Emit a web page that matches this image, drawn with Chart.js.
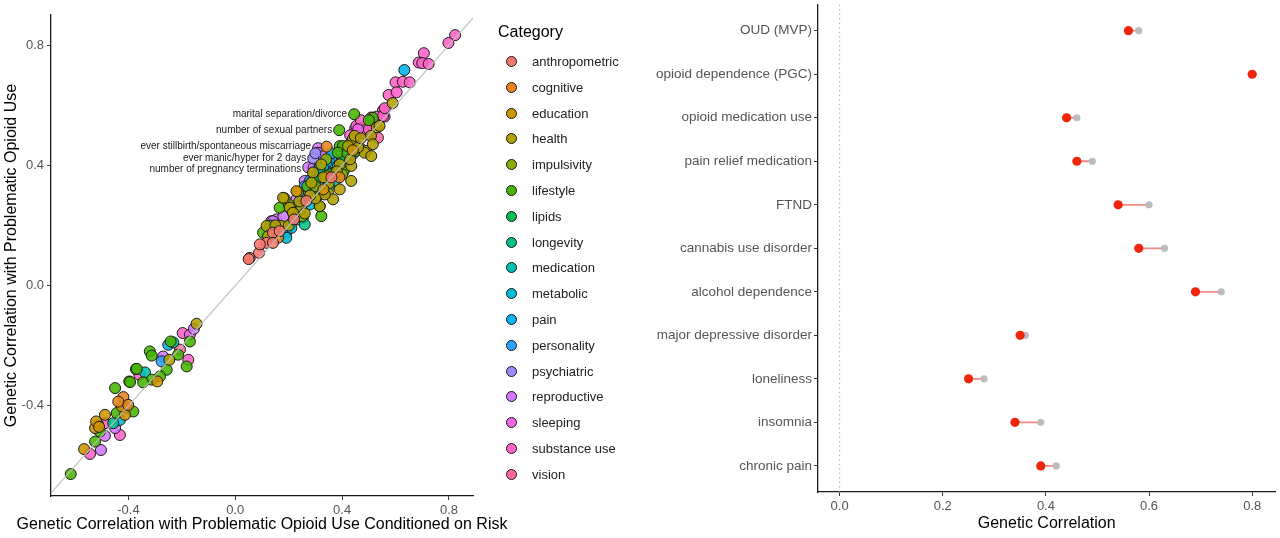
<!DOCTYPE html>
<html>
<head>
<meta charset="utf-8">
<script src="https://cdn.jsdelivr.net/npm/chart.js@4"></script>
<style>
  body { margin: 0; background: #fff; font-family: "Liberation Sans", Arial, sans-serif; }
  #wrap { position: relative; width: 1280px; height: 538px; overflow: hidden; }
  #scatterBox { position: absolute; left: 0; top: 0; width: 520px; height: 538px; }
  #dumbbellBox { position: absolute; left: 640px; top: 0; width: 640px; height: 538px; }
  #legend { position: absolute; left: 498px; top: 0; width: 140px; height: 500px; }
  #legend .title { position: absolute; left: 0; top: 23px; font-size: 16px; color: #000; }
  #legend .item { position: absolute; left: 8px; height: 20px; line-height: 20px; font-size: 13px; color: #222; white-space: nowrap; }
  #legend .dot { position: absolute; left: 0; top: 4px; width: 9px; height: 9px; border: 1.2px solid #1a1a1a; border-radius: 50%; }
  #legend .lab { position: absolute; left: 26px; top: 0; }
</style>
</head>
<body>
<div id="wrap">
  <div id="scatterBox"><canvas id="scatterChart"></canvas></div>
  <div id="legend"></div>
  <div id="dumbbellBox"><canvas id="dumbbellChart"></canvas></div>
</div>
<script>
// ---- left panel data: [rg conditioned on risk, rg with problematic opioid use] ----
const categories = ['anthropometric', 'cognitive', 'education', 'health', 'impulsivity', 'lifestyle', 'lipids',
  'longevity', 'medication', 'metabolic', 'pain', 'personality', 'psychiatric', 'reproductive', 'sleeping',
  'substance use', 'vision'];

const anthropometricPts = [[0.054, 0.092], [0.05, 0.088], [0.089, 0.109], [0.117, 0.142], [0.141, 0.176],
  [0.166, 0.181], [0.141, 0.142], [0.266, 0.281], [0.092, 0.137], [0.22, 0.22], [0.36, 0.36]];
const cognitivePts = [[0.342, 0.462], [0.16, 0.159], [-0.419, -0.371], [-0.401, -0.397], [-0.438, -0.386],
  [0.39, 0.36]];
const educationPts = [[-0.488, -0.43], [-0.513, -0.463], [-0.525, -0.474], [-0.566, -0.544], [-0.521, -0.452],
  [-0.413, -0.43], [-0.425, -0.402], [-0.292, -0.319], [0.229, 0.314], [-0.51, -0.47], [0.33, 0.32], [0.44, 0.45]];
const healthPts = [[0.589, 0.607], [0.53, 0.526], [0.508, 0.498], [0.44, 0.487], [0.422, 0.464], [0.49, 0.448],
  [0.291, 0.376], [0.434, 0.348], [0.347, 0.309], [0.366, 0.287], [0.235, 0.311], [0.185, 0.29], [0.247, 0.256],
  [0.204, 0.259], [0.216, 0.242], [0.173, 0.198], [0.54, 0.531], [0.447, 0.498], [0.515, 0.47], [0.484, 0.442],
  [0.509, 0.431], [0.391, 0.403], [0.434, 0.398], [0.322, 0.403], [0.341, 0.364], [0.391, 0.32], [0.285, 0.342],
  [0.335, 0.303], [0.179, 0.292], [0.316, 0.264], [0.117, 0.198], [0.123, 0.164], [-0.145, -0.127],
  [-0.247, -0.247], [0.46, 0.46], [0.3, 0.29], [0.26, 0.24], [0.28, 0.3], [0.2, 0.2], [0.35, 0.34], [0.38, 0.38],
  [0.43, 0.42], [0.47, 0.49], [0.33, 0.36], [0.24, 0.28], [0.15, 0.2]];
const impulsivityPts = [[0.466, 0.459], [0.21, 0.253], [0.3, 0.33], [0.25, 0.23], [0.4, 0.37], [0.34, 0.42],
  [0.45, 0.47], [0.2, 0.27]];
const lifestylePts = [[0.515, 0.558], [0.391, 0.464], [0.453, 0.448], [0.406, 0.381], [0.316, 0.264],
  [0.166, 0.259], [0.104, 0.176], [0.428, 0.47], [0.403, 0.464], [0.384, 0.442], [0.353, 0.37], [0.322, 0.231],
  [0.445, 0.57], [0.389, 0.517], [-0.17, -0.186], [-0.242, -0.186], [-0.32, -0.219], [-0.313, -0.233],
  [-0.214, -0.23], [-0.182, -0.269], [-0.257, -0.28], [-0.372, -0.278], [-0.282, -0.302], [-0.313, -0.313],
  [-0.397, -0.319], [-0.345, -0.322], [-0.45, -0.341], [-0.382, -0.419], [-0.444, -0.424], [-0.507, -0.486],
  [-0.525, -0.519], [-0.616, -0.627], [-0.394, -0.321], [-0.369, -0.277], [0.27, 0.33], [0.42, 0.44],
  [0.13, 0.2], [0.5, 0.55], [0.31, 0.3]];
const lipidsPts = [[0.3, 0.35], [0.4, 0.42]];
const longevityPts = [[0.316, 0.392], [0.26, 0.203], [-0.457, -0.458], [-0.232, -0.189]];
const medicationPts = [[0.35, 0.33], [-0.338, -0.289], [0.3, 0.32]];
const metabolicPts = [[0.416, 0.431], [0.391, 0.398], [0.347, 0.376], [0.204, 0.198], [0.253, 0.226],
  [0.191, 0.176], [0.353, 0.409], [0.384, 0.398], [0.372, 0.348], [0.316, 0.326], [0.253, 0.287], [0.241, 0.264],
  [0.235, 0.22], [0.21, 0.192], [0.191, 0.159], [0.44, 0.437], [0.341, 0.409], [0.316, 0.376], [-0.432, -0.447],
  [0.28, 0.27], [0.33, 0.39], [0.22, 0.24], [0.4, 0.4], [0.29, 0.35], [0.36, 0.44]];
const painPts = [[0.633, 0.717], [-0.251, -0.197]];
const personalityPts = [[-0.276, -0.252], [0.28, 0.35], [0.37, 0.41], [0.26, 0.33]];
const psychiatricPts = [[0.292, 0.423], [0.297, 0.309], [0.32, 0.37], [0.3, 0.44]];
const reproductivePts = [[0.31, 0.457], [0.273, 0.393], [0.341, 0.414], [0.26, 0.348], [0.229, 0.287],
  [0.154, 0.22], [0.135, 0.214], [0.141, 0.214], [0.31, 0.442], [0.293, 0.392], [0.266, 0.309], [0.316, 0.398],
  [-0.155, -0.144], [-0.27, -0.236], [-0.45, -0.474], [-0.488, -0.5], [-0.503, -0.547], [0.24, 0.26],
  [0.18, 0.23], [0.33, 0.43]];
const sleepingPts = [[-0.17, -0.163], [0.46, 0.52]];
const substanceUsePts = [[0.823, 0.833], [0.798, 0.807], [0.706, 0.773], [0.687, 0.742], [0.70, 0.74],
  [0.724, 0.737], [0.60, 0.676], [0.627, 0.678], [0.653, 0.676], [0.574, 0.634], [0.604, 0.643], [0.553, 0.583],
  [0.559, 0.562], [0.529, 0.562], [0.449, 0.522], [0.489, 0.531], [0.553, 0.564], [0.472, 0.506], [0.509, 0.559],
  [0.521, 0.542], [0.453, 0.531], [0.49, 0.503], [0.366, 0.426], [0.222, 0.226], [-0.197, -0.158],
  [-0.176, -0.247], [-0.359, -0.297], [-0.407, -0.408], [-0.488, -0.458], [-0.432, -0.497], [-0.544, -0.56],
  [0.5, 0.52], [0.47, 0.55], [0.56, 0.59], [0.43, 0.5]];
const visionPts = [[-0.207, -0.213], [0.534, 0.492]];

const categoryPoints = [anthropometricPts, cognitivePts, educationPts, healthPts, impulsivityPts, lifestylePts,
  lipidsPts, longevityPts, medicationPts, metabolicPts, painPts, personalityPts, psychiatricPts, reproductivePts,
  sleepingPts, substanceUsePts, visionPts];

// labelled traits: [name, x, y]
const labelledTraits = [
  ['marital separation/divorce', 0.445, 0.57],
  ['number of sexual partners', 0.389, 0.517],
  ['ever stillbirth/spontaneous miscarriage', 0.31, 0.462],
  ['ever manic/hyper for 2 days', 0.292, 0.423],
  ['number of pregnancy terminations', 0.273, 0.387]
];
const scatterTicks = [-0.4, 0.0, 0.4, 0.8];

// ---- right panel data ----
const traits = ['OUD (MVP)', 'opioid dependence (PGC)', 'opioid medication use', 'pain relief medication', 'FTND',
  'cannabis use disorder', 'alcohol dependence', 'major depressive disorder', 'loneliness', 'insomnia', 'chronic pain'];
const rgConditioned = [0.56, 0.80, 0.44, 0.46, 0.54, 0.58, 0.69, 0.35, 0.25, 0.34, 0.39];
const rgOriginal = [0.58, 0.80, 0.46, 0.49, 0.60, 0.63, 0.74, 0.36, 0.28, 0.39, 0.42];
const dumbbellTicks = [0.0, 0.2, 0.4, 0.6, 0.8];

// ggplot style hue palette (hcl, c=100, l=65)
const hcl = (h, c, l) => {
  const hr = h * Math.PI / 180;
  const U = c * Math.cos(hr), V = c * Math.sin(hr);
  const Xn = 95.047, Yn = 100, Zn = 108.883;
  const Y = Yn * Math.pow((l + 16) / 116, 3);
  const den = Xn + 15 * Yn + 3 * Zn;
  const u = U / (13 * l) + 4 * Xn / den, v = V / (13 * l) + 9 * Yn / den;
  const X = 9 * Y * u / (4 * v);
  const Z = 3 * Y / v - X / 3 - 5 * Y;
  const lin = [
    3.2404542 * X - 1.5371385 * Y - 0.4985314 * Z,
    -0.9692660 * X + 1.8760108 * Y + 0.0415560 * Z,
    0.0556434 * X - 0.2040259 * Y + 1.0572252 * Z
  ].map(c => c / 100);
  return lin.map(c => {
    const g = c <= 0.0031308 ? 12.92 * c : 1.055 * Math.pow(c, 1 / 2.4) - 0.055;
    return Math.round(Math.min(1, Math.max(0, g)) * 255);
  });
};
const palette = categories.map((_, i) => hcl((15 + i * 360 / categories.length) % 360, 100, 65));
const rgba = (c, a) => `rgba(${c[0]},${c[1]},${c[2]},${a})`;

const FONT = '"Liberation Sans", Arial, sans-serif';
Chart.defaults.font.family = FONT;
Chart.defaults.animation = false;

const axisStyle = {
  border: { display: true, color: '#1a1a1a', width: 1.3 },
  grid: { drawOnChartArea: false, drawTicks: true, tickLength: 4, tickColor: '#333', tickWidth: 1 }
};

// legend
const legend = document.getElementById('legend');
legend.innerHTML = '<div class="title">Category</div>';
categories.forEach((cat, i) => {
  const item = document.createElement('div');
  item.className = 'item';
  item.style.top = (52 + i * 25.8) + 'px';
  item.innerHTML = `<span class="dot" style="background:${rgba(palette[i], 1)}"></span><span class="lab">${cat}</span>`;
  legend.appendChild(item);
});

// text labels next to points + x title that may run past the panel (as in ggplot)
const traitLabels = {
  id: 'traitLabels',
  afterDatasetsDraw(chart) {
    const ctx = chart.ctx;
    const xs = chart.scales.x, ys = chart.scales.y;
    ctx.save();
    ctx.font = '10px ' + FONT;
    ctx.fillStyle = '#222';
    ctx.textAlign = 'right';
    ctx.textBaseline = 'middle';
    labelledTraits.forEach(([name, x, y]) => {
      ctx.fillText(name, xs.getPixelForValue(x) - 7, ys.getPixelForValue(y));
    });
    ctx.font = '16px ' + FONT;
    ctx.fillStyle = '#000';
    ctx.textAlign = 'center';
    ctx.fillText('Genetic Correlation with Problematic Opioid Use Conditioned on Risk', (xs.left + xs.right) / 2, 525);
    ctx.restore();
  }
};

const scatterSets = categories.map((cat, i) => ({
  label: cat,
  data: categoryPoints[i].map(([x, y]) => ({ x, y })),
  backgroundColor: rgba(palette[i], 0.88),
  borderColor: '#1a1a1a',
  borderWidth: 1,
  pointRadius: 5.5,
  order: 1
}));
scatterSets.push({
  label: 'identity',
  type: 'line',
  data: [{ x: -0.69, y: -0.69 }, { x: 0.89, y: 0.89 }],
  borderColor: 'rgba(190,190,190,0.85)',
  borderWidth: 1.3,
  pointRadius: 0,
  order: 0
});

new Chart(document.getElementById('scatterChart'), {
  type: 'scatter',
  data: { datasets: scatterSets },
  plugins: [traitLabels],
  options: {
    responsive: true,
    maintainAspectRatio: false,
    layout: { padding: { left: 0, right: 47, top: 15, bottom: 0 } },
    plugins: { legend: { display: false }, tooltip: { enabled: false } },
    scales: {
      x: {
        type: 'linear', min: -0.69, max: 0.89, ...axisStyle,
        afterBuildTicks: s => { s.ticks = scatterTicks.map(v => ({ value: v })); },
        afterFit: s => { s.height = 42; s.paddingLeft = 0; s.paddingRight = 0; },
        ticks: { color: '#555', font: { size: 13 }, padding: 3, callback: v => v.toFixed(1) }
      },
      y: {
        type: 'linear', min: -0.70, max: 0.90, ...axisStyle,
        afterBuildTicks: s => { s.ticks = scatterTicks.map(v => ({ value: v })); },
        afterFit: s => { s.width = 51; s.paddingTop = 0; s.paddingBottom = 0; },
        ticks: { color: '#555', font: { size: 13 }, padding: 3, callback: v => v.toFixed(1) },
        title: { display: true, text: 'Genetic Correlation with Problematic Opioid Use',
          color: '#000', font: { size: 16 }, padding: { top: 1.5, bottom: 0 } }
      }
    }
  }
});

// ---- dumbbell ----
const dumbbellSets = [
  {
    label: 'conditioned',
    data: traits.map((t, i) => ({ x: rgConditioned[i], y: i })),
    backgroundColor: '#f0260c',
    borderWidth: 0,
    pointRadius: 4.6,
    order: 0
  },
  {
    label: 'original',
    data: traits.map((t, i) => ({ x: rgOriginal[i], y: i })),
    backgroundColor: 'rgba(185,185,185,0.95)',
    borderWidth: 0,
    pointRadius: 3.6,
    order: 1
  }
];
traits.forEach((t, i) => {
  dumbbellSets.push({
    label: t,
    type: 'line',
    data: [{ x: rgConditioned[i], y: i }, { x: rgOriginal[i], y: i }],
    borderColor: '#f08a84',
    borderWidth: 1.8,
    pointRadius: 0,
    order: 2
  });
});
dumbbellSets.push({
  label: 'zero',
  type: 'line',
  data: [{ x: 0, y: -0.6 }, { x: 0, y: traits.length - 0.4 }],
  borderColor: '#adadad',
  borderWidth: 1,
  borderDash: [1.5, 3],
  pointRadius: 0,
  order: 3
});

new Chart(document.getElementById('dumbbellChart'), {
  type: 'scatter',
  data: { datasets: dumbbellSets },
  options: {
    responsive: true,
    maintainAspectRatio: false,
    layout: { padding: { left: 0, right: 2, top: 2, bottom: 0 } },
    plugins: { legend: { display: false }, tooltip: { enabled: false } },
    scales: {
      x: {
        type: 'linear', min: -0.042, max: 0.845, ...axisStyle,
        afterBuildTicks: s => { s.ticks = dumbbellTicks.map(v => ({ value: v })); },
        afterFit: s => { s.height = 46; s.paddingLeft = 0; s.paddingRight = 0; },
        ticks: { color: '#555', font: { size: 13 }, padding: 3, callback: v => v.toFixed(1) },
        title: { display: true, text: 'Genetic Correlation', color: '#000', font: { size: 16 },
          padding: { top: 0, bottom: 5 } }
      },
      y: {
        type: 'linear', min: -0.6, max: traits.length - 0.4, reverse: true, ...axisStyle,
        afterBuildTicks: s => { s.ticks = traits.map((t, i) => ({ value: i })); },
        afterFit: s => { s.width = 178; s.paddingTop = 0; s.paddingBottom = 0; },
        ticks: { color: '#555', font: { size: 13.5 }, padding: 2, autoSkip: false, callback: v => traits[v] }
      }
    }
  }
});
</script>
</body>
</html>
